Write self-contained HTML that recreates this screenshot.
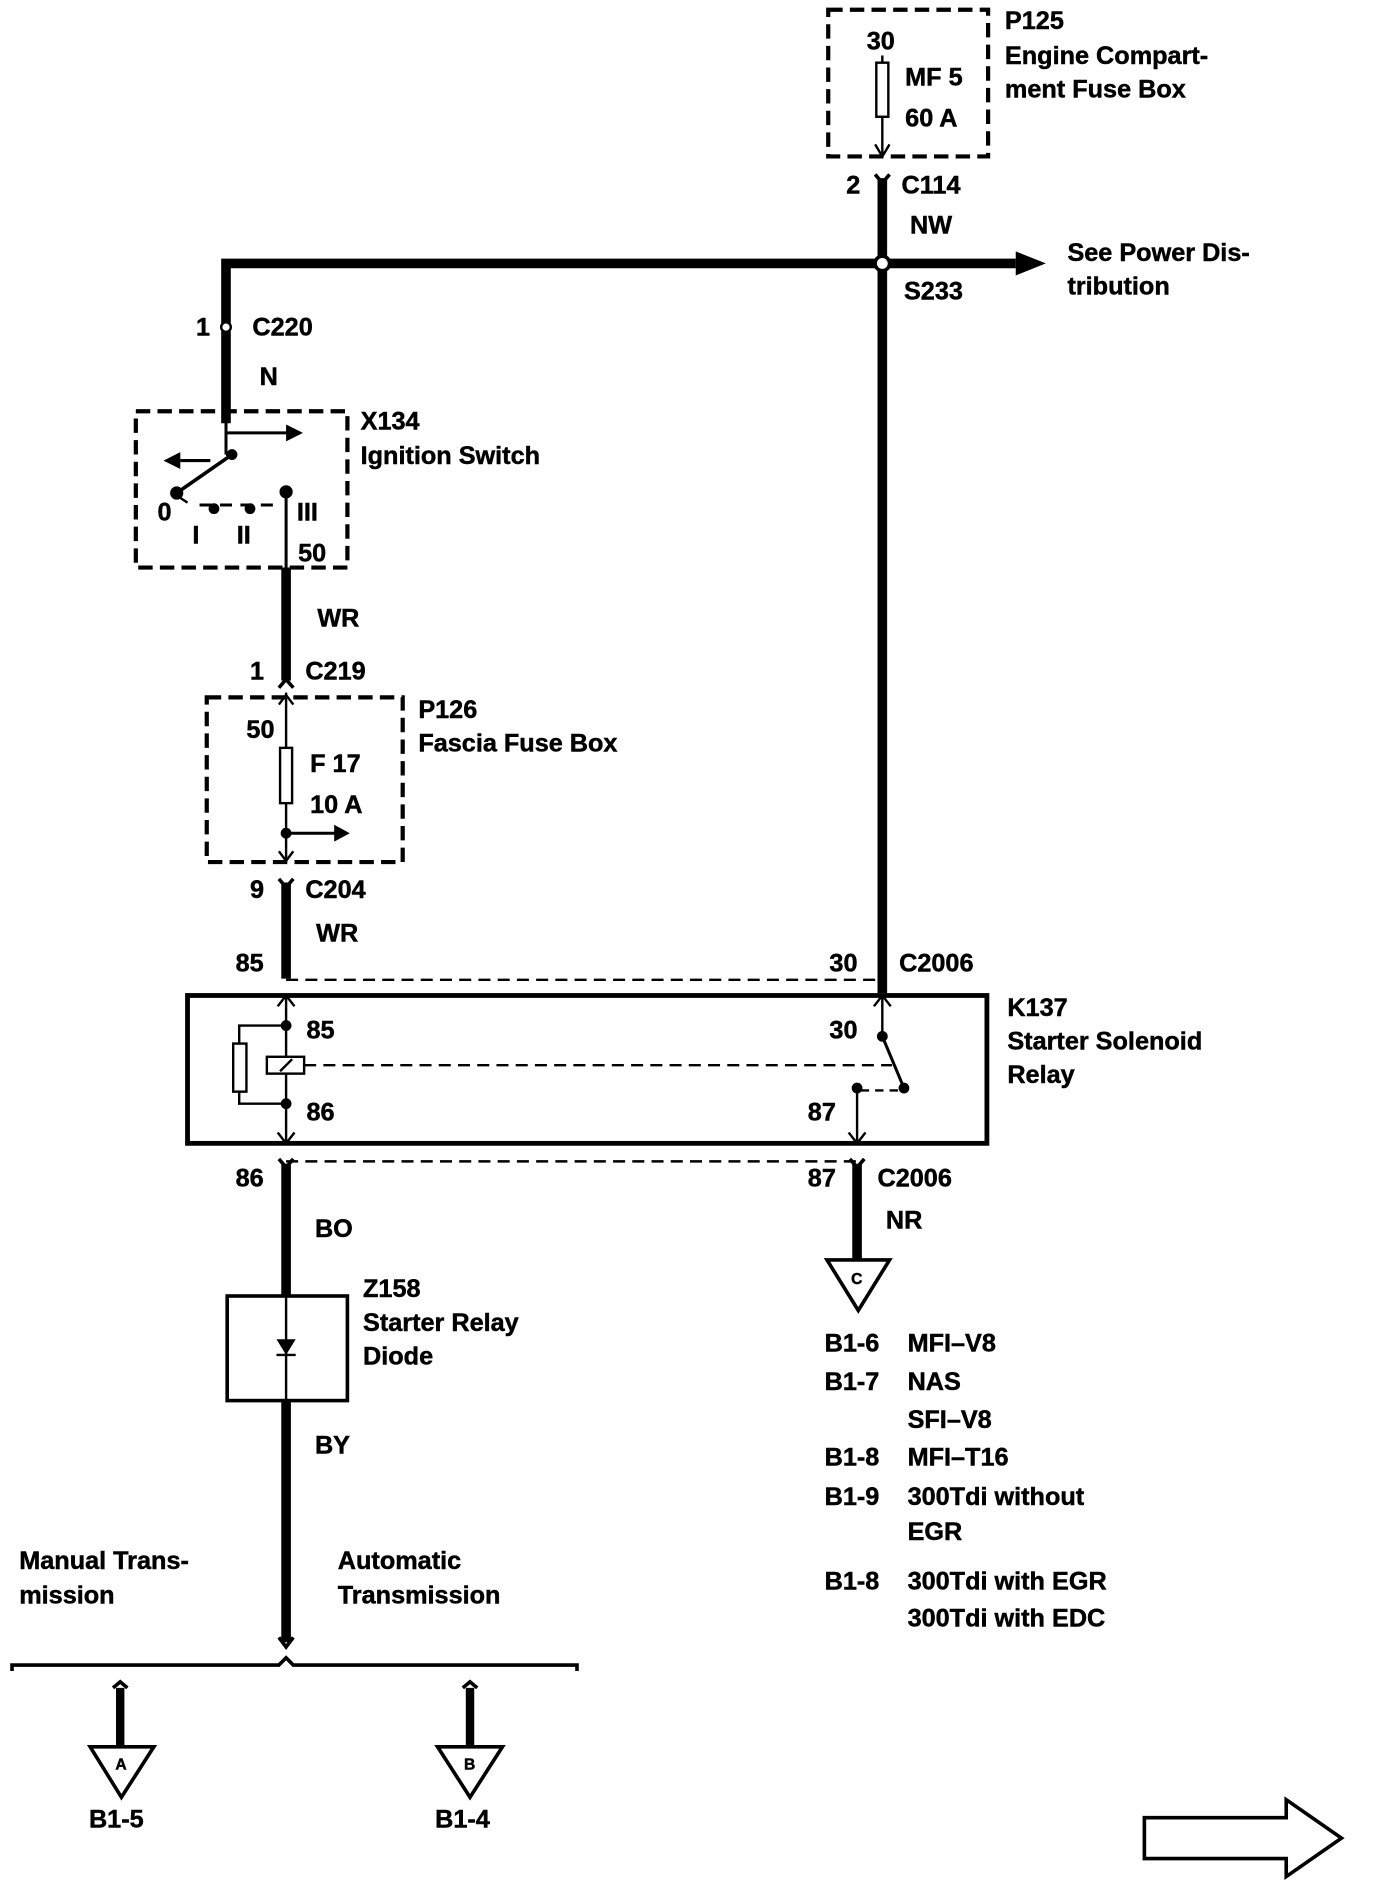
<!DOCTYPE html>
<html><head><meta charset="utf-8"><style>
html,body{margin:0;padding:0;background:#fff;}
svg{display:block;}
text{font-family:"Liberation Sans",sans-serif;font-weight:bold;font-size:21px;fill:#000;stroke:#000;stroke-width:0.4px;}
</style></head><body>
<svg width="1392" height="1890" viewBox="0 0 1158 1572" xmlns="http://www.w3.org/2000/svg">
<g fill="none" stroke="#000">
<!-- P125 -->
<rect x="689" y="8" width="133" height="122" stroke-width="3.5" stroke-dasharray="12,6"/>
<rect x="729" y="52" width="10" height="45" stroke-width="2"/>
<line x1="734" y1="46" x2="734" y2="52" stroke-width="2"/>
<line x1="734" y1="97" x2="734" y2="128" stroke-width="2"/>
<path d="M728,120 L734,130 L740,120" stroke-width="2"/>
<!-- right vertical -->
<path d="M728,145 L734,152 L740,145" stroke-width="3"/>
<line x1="734" y1="148" x2="734" y2="826" stroke-width="8"/>
<!-- horizontal -->
<polyline points="188,352 188,219 845,219" stroke-width="8"/>
<path d="M845,209 L870,219 L845,229 Z" fill="#000" stroke="none"/>
<circle cx="734" cy="219" r="6" fill="#fff" stroke-width="3"/>
<!-- C220 -->
<circle cx="188" cy="272" r="4" fill="#fff" stroke-width="2"/>
<!-- X134 -->
<rect x="113" y="342" width="176" height="130" stroke-width="3.5" stroke-dasharray="12,6"/>
<line x1="188" y1="342" x2="188" y2="378" stroke-width="2.5"/>
<line x1="188" y1="360" x2="240" y2="360" stroke-width="2.5"/>
<path d="M238,353 L252,360 L238,367 Z" fill="#000" stroke="none"/>
<line x1="188" y1="378" x2="193" y2="378" stroke-width="2.5"/>
<line x1="193" y1="378" x2="147" y2="410" stroke-width="3"/>
<line x1="175" y1="383" x2="150" y2="383" stroke-width="2.5"/>
<path d="M150,376 L136,383 L150,390 Z" fill="#000" stroke="none"/>
<circle cx="193" cy="378" r="4" fill="#000"/>
<circle cx="147" cy="410" r="5" fill="#000"/>
<line x1="150" y1="414" x2="156" y2="418" stroke-width="2"/>
<line x1="166" y1="420" x2="228" y2="420" stroke-width="2.5" stroke-dasharray="10,7"/>
<circle cx="178" cy="423" r="4" fill="#000"/>
<circle cx="208" cy="423" r="4" fill="#000"/>
<circle cx="238" cy="409" r="5" fill="#000"/>
<line x1="238" y1="409" x2="238" y2="472" stroke-width="2.5"/>
<!-- WR wire -->
<line x1="238" y1="472" x2="238" y2="566" stroke-width="8"/>
<path d="M232,572 L238,565 L244,572" stroke-width="3"/>
<!-- P126 -->
<rect x="172" y="580" width="163" height="137" stroke-width="3.5" stroke-dasharray="12,6"/>
<line x1="238" y1="576" x2="238" y2="622" stroke-width="2"/>
<path d="M232,586 L238,578 L244,586" stroke-width="2"/>
<rect x="233" y="622" width="10" height="46" stroke-width="2"/>
<line x1="238" y1="668" x2="238" y2="716" stroke-width="2"/>
<circle cx="238" cy="693" r="4" fill="#000"/>
<line x1="238" y1="693" x2="280" y2="693" stroke-width="2.5"/>
<path d="M278,686 L291,693 L278,700 Z" fill="#000" stroke="none"/>
<path d="M232,708 L238,716 L244,708" stroke-width="2"/>
<!-- C204 -->
<path d="M232,731 L238,738 L244,731" stroke-width="3"/>
<line x1="238" y1="734" x2="238" y2="814" stroke-width="8"/>
<line x1="238" y1="815" x2="734" y2="815" stroke-width="2" stroke-dasharray="10,6"/>
<!-- K137 -->
<rect x="156" y="828" width="665" height="123" stroke-width="4"/>
<line x1="238" y1="828" x2="238" y2="951" stroke-width="2"/>
<path d="M231,837 L238,828 L245,837" stroke-width="2"/>
<path d="M231,942 L238,951 L245,942" stroke-width="2"/>
<circle cx="238" cy="853" r="4" fill="#000"/>
<circle cx="238" cy="918" r="4" fill="#000"/>
<polyline points="238,853 199,853 199,868" stroke-width="2"/>
<rect x="194" y="868" width="11" height="40" stroke-width="2"/>
<polyline points="199,908 199,918 238,918" stroke-width="2"/>
<rect x="222" y="879" width="31" height="14" fill="#fff" stroke-width="2"/>
<line x1="233" y1="891" x2="243" y2="881" stroke-width="2"/>
<line x1="253" y1="886" x2="742" y2="886" stroke-width="2" stroke-dasharray="10,6"/>
<line x1="734" y1="828" x2="734" y2="862" stroke-width="2"/>
<path d="M727,837 L734,828 L741,837" stroke-width="2"/>
<circle cx="734" cy="862" r="4" fill="#000"/>
<line x1="734" y1="862" x2="752" y2="905" stroke-width="2.5"/>
<circle cx="752" cy="905" r="4" fill="#000"/>
<circle cx="713" cy="905" r="4" fill="#000"/>
<line x1="716" y1="907" x2="748" y2="907" stroke-width="2" stroke-dasharray="7,5"/>
<line x1="713" y1="905" x2="713" y2="951" stroke-width="2"/>
<path d="M706,942 L713,951 L720,942" stroke-width="2"/>
<!-- below relay -->
<line x1="238" y1="966" x2="713" y2="966" stroke-width="2" stroke-dasharray="10,6"/>
<path d="M232,964 L238,971 L244,964" stroke-width="3"/>
<path d="M707,964 L713,971 L719,964" stroke-width="3"/>
<line x1="713" y1="968" x2="713" y2="1048" stroke-width="8"/>
<path d="M688,1048 L740,1048 L714,1090 Z" fill="#fff" stroke-width="3"/>
<line x1="238" y1="968" x2="238" y2="1366" stroke-width="8"/>
<rect x="189" y="1078" width="100" height="87" fill="#fff" stroke-width="3"/>
<line x1="238" y1="1078" x2="238" y2="1165" stroke-width="2"/>
<path d="M230,1114 L246,1114 L238,1127 Z" fill="#000" stroke="none"/>
<line x1="230" y1="1127" x2="246" y2="1127" stroke-width="2"/>
<path d="M232,1362 L238,1370 L244,1362" stroke-width="3"/>
<!-- bracket -->
<path d="M10,1390 L10,1385 L232,1385 L238,1379 L244,1385 L480,1385 L480,1390" stroke-width="3"/>
<line x1="100" y1="1404" x2="100" y2="1455" stroke-width="7"/>
<path d="M94,1404 L100,1399 L106,1404" stroke-width="3"/>
<path d="M75,1453 L128,1453 L101,1495 Z" fill="#fff" stroke-width="3"/>
<line x1="391" y1="1404" x2="391" y2="1455" stroke-width="7"/>
<path d="M385,1404 L391,1399 L397,1404" stroke-width="3"/>
<path d="M364,1453 L418,1453 L391,1495 Z" fill="#fff" stroke-width="3"/>
<!-- hollow arrow -->
<path d="M952,1512 L1070,1512 L1070,1497 L1116,1529 L1070,1561 L1070,1546 L952,1546 Z" fill="#fff" stroke-width="3"/>
</g>
<g>
<text x="836" y="24">P125</text>
<text x="836" y="53">Engine Compart-</text>
<text x="836" y="81">ment Fuse Box</text>
<text x="721" y="41">30</text>
<text x="753" y="71">MF 5</text>
<text x="753" y="105">60 A</text>
<text x="704" y="161">2</text>
<text x="750" y="161">C114</text>
<text x="757" y="194">NW</text>
<text x="888" y="217">See Power Dis-</text>
<text x="888" y="245">tribution</text>
<text x="752" y="249">S233</text>
<text x="163" y="279">1</text>
<text x="210" y="279">C220</text>
<text x="216" y="320">N</text>
<text x="300" y="357">X134</text>
<text x="300" y="386">Ignition Switch</text>
<text x="131" y="433">0</text>
<text x="160" y="452">I</text>
<text x="197" y="452">II</text>
<text x="247" y="433">III</text>
<text x="248" y="467">50</text>
<text x="264" y="521">WR</text>
<text x="208" y="565">1</text>
<text x="254" y="565">C219</text>
<text x="348" y="597">P126</text>
<text x="348" y="625">Fascia Fuse Box</text>
<text x="205" y="614">50</text>
<text x="258" y="642">F 17</text>
<text x="258" y="676">10 A</text>
<text x="208" y="747">9</text>
<text x="254" y="747">C204</text>
<text x="263" y="783">WR</text>
<text x="196" y="808">85</text>
<text x="690" y="808">30</text>
<text x="748" y="808">C2006</text>
<text x="838" y="845">K137</text>
<text x="838" y="873">Starter Solenoid</text>
<text x="838" y="901">Relay</text>
<text x="255" y="864">85</text>
<text x="255" y="932">86</text>
<text x="690" y="864">30</text>
<text x="672" y="932">87</text>
<text x="196" y="987">86</text>
<text x="672" y="987">87</text>
<text x="730" y="987">C2006</text>
<text x="737" y="1022">NR</text>
<text x="708" y="1068" style="font-size:13px">C</text>
<text x="262" y="1029">BO</text>
<text x="302" y="1079">Z158</text>
<text x="302" y="1107">Starter Relay</text>
<text x="302" y="1135">Diode</text>
<text x="262" y="1209">BY</text>
<text x="16" y="1305">Manual Trans-</text>
<text x="16" y="1334">mission</text>
<text x="281" y="1305">Automatic</text>
<text x="281" y="1334">Transmission</text>
<text x="96" y="1472" style="font-size:13px">A</text>
<text x="386" y="1472" style="font-size:13px">B</text>
<text x="74" y="1520">B1-5</text>
<text x="362" y="1520">B1-4</text>
<text x="686" y="1124">B1-6</text><text x="755" y="1124">MFI–V8</text>
<text x="686" y="1156">B1-7</text><text x="755" y="1156">NAS</text>
<text x="755" y="1188">SFI–V8</text>
<text x="686" y="1219">B1-8</text><text x="755" y="1219">MFI–T16</text>
<text x="686" y="1252">B1-9</text><text x="755" y="1252">300Tdi without</text>
<text x="755" y="1281">EGR</text>
<text x="686" y="1322">B1-8</text><text x="755" y="1322">300Tdi with EGR</text>
<text x="755" y="1353">300Tdi with EDC</text>
</g>
</svg>
</body></html>
